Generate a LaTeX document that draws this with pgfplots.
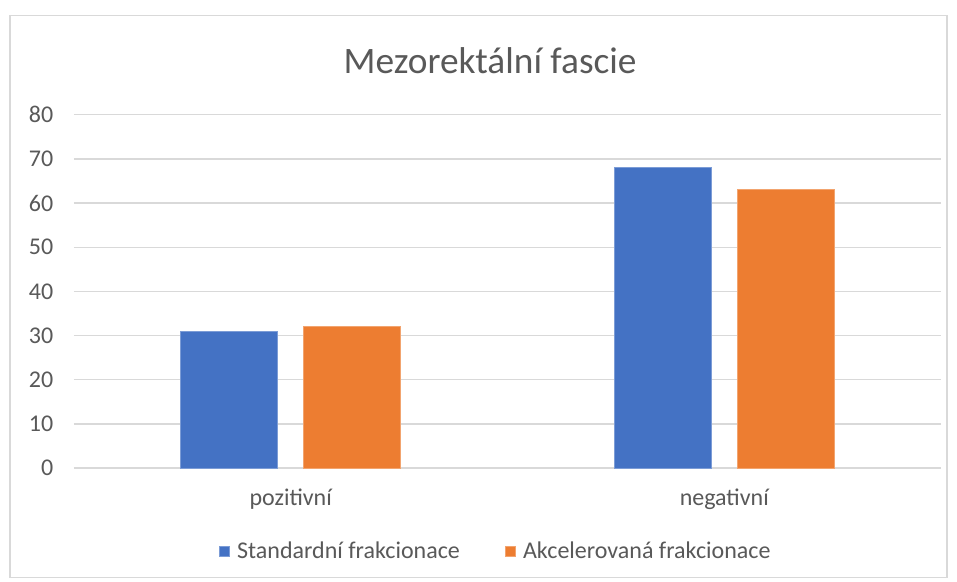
\documentclass[border=0pt]{standalone}
\usepackage{pgfplots}
\pgfplotsset{compat=1.18}
\usepackage{fontspec}
\setmainfont{Carlito}
\definecolor{cblue}{HTML}{4472C4}
\definecolor{corange}{HTML}{ED7D31}
\definecolor{cgrid}{HTML}{D9D9D9}
\definecolor{ctext}{HTML}{595959}
\begin{document}
\begin{tikzpicture}[x=0.75pt,y=0.75pt]
\fill[white] (-74,-114) rectangle (883,468);
\draw[cgrid, line width=1pt] (-64,-109.5) rectangle (873,452.5);
\begin{axis}[
  at={(0,0)}, anchor=south west,
  scale only axis,
  width=650.25pt, height=265pt,
  ymin=0, ymax=80, ytick={0,10,...,80},
  xmin=-0.5, xmax=1.5,
  xtick=data, xticklabels={pozitivní,negativní},
  ybar=19.5pt, bar width=72.75pt,
  axis line style={draw=none},
  major tick length=0pt,
  ymajorgrids, grid style={cgrid, line width=1pt},
  tick label style={font=\fontsize{18}{21}\selectfont, text=ctext},
  yticklabel style={xshift=-12pt},
  xticklabel style={yshift=-12pt},
  /pgf/number format/assume math mode=true,
  legend style={at={(0.487,-0.235)}, anchor=center, draw=none, fill=none,
    legend columns=2, font=\fontsize{18}{21}\selectfont, text=ctext,
    /tikz/every even column/.append style={column sep=32pt}},
  legend image code/.code={\fill[#1] (0pt,-3.75pt) rectangle (7.5pt,3.75pt); \path (11pt,0pt);},
  title={Mezorektální fascie},
  title style={at={(0.48,1.13)}, anchor=center, font=\fontsize{28}{33}\selectfont, text=ctext},
]
\addplot[fill=cblue, draw=cblue!70!white] coordinates {(0,31) (1,68)};
\addplot[fill=corange, draw=corange!70!white] coordinates {(0,32) (1,63)};
\legend{Standardní frakcionace, Akcelerovaná frakcionace}
\end{axis}
\end{tikzpicture}
\end{document}
